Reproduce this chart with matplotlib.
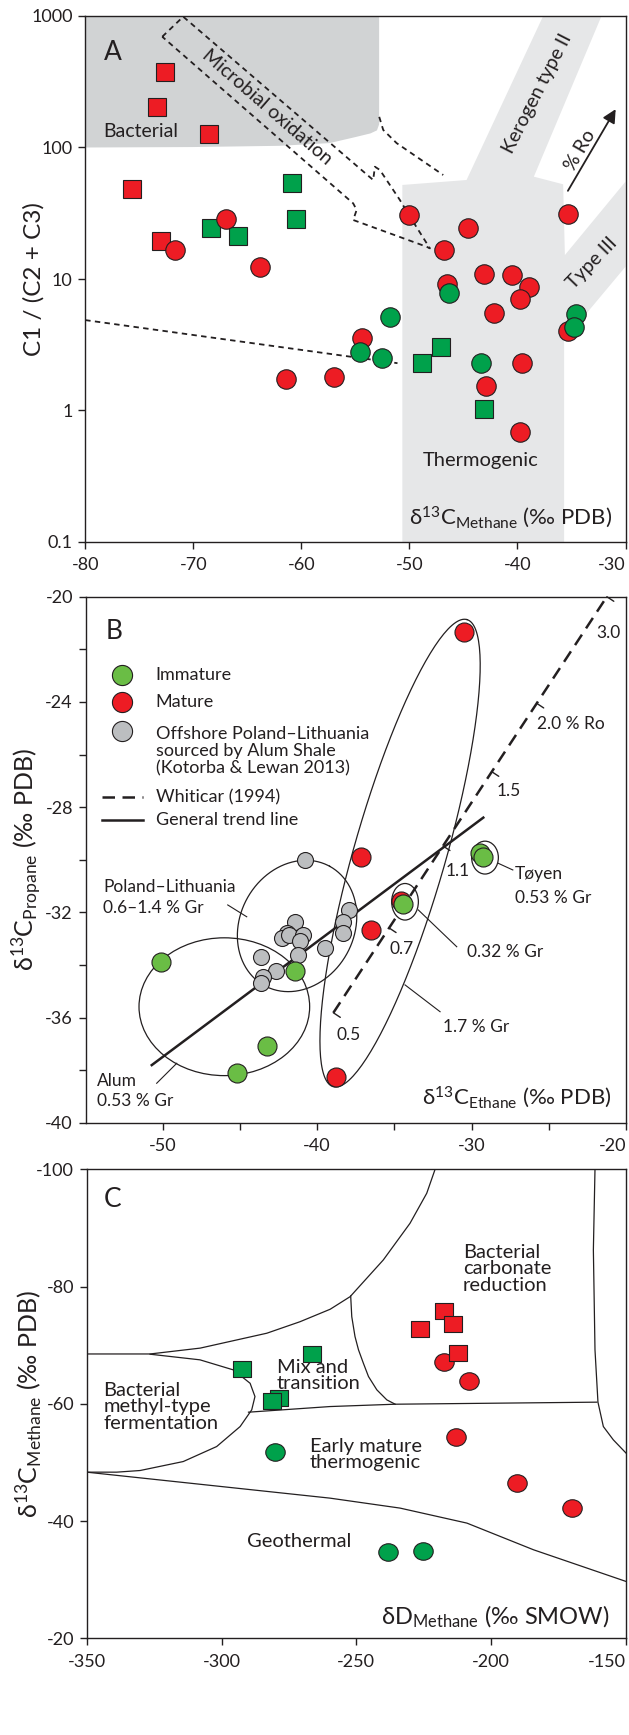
import numpy as np
import matplotlib
matplotlib.use('Agg')
import matplotlib.pyplot as plt
from matplotlib.patches import Polygon, Ellipse
from matplotlib.path import Path
from matplotlib.transforms import Affine2D
from matplotlib.ticker import FixedLocator, FixedFormatter, NullLocator

plt.rcParams['font.family'] = ['Lato', 'DejaVu Sans']
plt.rcParams['mathtext.fontset'] = 'custom'
plt.rcParams['mathtext.rm'] = 'Lato'
plt.rcParams['mathtext.it'] = 'Lato:italic'
plt.rcParams['mathtext.fallback'] = 'stixsans'
plt.rcParams['axes.unicode_minus'] = False

INK = '#231f20'
RED = '#ed1c24'
GREEN = '#00a14b'
LGREEN = '#6abd45'
GREY = '#bcbec0'

# ===================== PANEL A DATA =====================
a_red_sq_x = [-72.6, -73.35, -68.5, -75.7, -73.0]
a_red_sq_y = [375, 203, 127, 48, 19.4]
a_green_sq_x = [-60.9, -60.5, -68.4, -65.9, -48.8, -47.1, -43.1]
a_green_sq_y = [54, 28.8, 24.3, 21.3, 2.29, 3.05, 1.03]
a_red_ci_x = [-67.0, -71.7, -63.8, -50.0, -44.6, -46.8, -43.1, -40.5, -38.9, -46.5,
              -35.3, -39.8, -42.2, -35.3, -54.4, -61.4, -57.0, -39.6, -42.9, -39.8]
a_red_ci_y = [28.6, 16.5, 12.3, 30.5, 24.4, 16.7, 10.9, 10.7, 8.75, 9.1,
              31, 7.05, 5.55, 4.05, 3.56, 1.75, 1.8, 2.3, 1.53, 0.69]
a_green_ci_x = [-46.3, -51.8, -54.6, -52.5, -43.4, -34.6, -34.8]
a_green_ci_y = [7.87, 5.12, 2.79, 2.49, 2.31, 5.42, 4.3]

# gray fields (outline vertices)
bact_x = [-80, -52.8, -52.8, -53.0, -53.6, -55.0, -57.4, -62.0, -70.0, -80]
bact_y = [1000, 1000, 150, 135, 128, 120, 108, 103, 100.8, 100]
thermo_x = [-50.65, -50.65, -44.71, -37.62, -32.22, -38.48, -35.77, -35.61, -30, -30, -35.68, -35.68]
thermo_y = [0.1, 51.9, 56.6, 1000, 1000, 60, 52.5, 15.2, 55, 12.4, 3.43, 0.1]

# dashed outlines
micro_x = [-72.87, -70.93, -53.35, -53.19, -52.73, -50.88, -49.95, -48.1, -48.41, -55.2, -54.88, -55.2, -72.87]
micro_y = [696, 988, 56.6, 71.4, 67.5, 39.9, 29.8, 17.1, 17.6, 28.1, 33.5, 37.6, 696]
curve_x = [-52.79, -52.42, -51.18, -46.87]
curve_y = [171, 136, 108, 61.8]
lower_x = [-80, -51.1]
lower_y = [4.87, 2.29]

# ===================== PANEL B DATA =====================
b_grey_x = [-40.76, -41.41, -41.97, -42.29, -41.80, -40.89, -41.11, -41.26, -43.63,
            -42.66, -43.48, -43.63, -39.49, -37.91, -38.30, -38.34]
b_grey_y = [-30.01, -32.36, -32.80, -32.99, -32.86, -32.86, -33.08, -33.62, -33.69,
            -34.22, -34.45, -34.70, -33.37, -31.91, -32.36, -32.80]
b_red_x = [-30.49, -37.16, -36.53, -38.78, -34.59]
b_red_y = [-21.33, -29.89, -32.67, -38.27, -31.57]
b_green_x = [-50.11, -45.21, -43.26, -41.45, -34.42, -29.45, -29.28]
b_green_y = [-33.90, -38.10, -37.08, -34.22, -31.68, -29.76, -29.89]

whiticar_x = [-38.95, -21.24]
whiticar_y = [-35.82, -20.0]
ro_x = [-38.95, -35.34, -31.85, -28.69, -25.78, -21.24]
ro_labels = ['0.5', '0.7', '1.1', '1.5', '2.0 % Ro', '3.0']
trend_x = [-50.71, -29.24]
trend_y = [-37.81, -28.40]

# ===================== PANEL C DATA =====================
c_green_sq_x = [-292.3, -266.3, -278.6, -281.4]
c_green_sq_y = [-66.0, -68.5, -61.06, -60.55]
c_green_ci_x = [-280.0, -238.1, -225.1]
c_green_ci_y = [-51.86, -34.64, -34.93]
c_red_ci_x = [-217.4, -208.2, -213.1, -190.3, -170.1]
c_red_ci_y = [-67.15, -63.91, -54.42, -46.47, -42.21]
c_red_sq_x = [-217.4, -214.2, -226.4, -212.4]
c_red_sq_y = [-75.84, -73.63, -72.72, -68.63]

# field boundaries
up_x = [-350, -326.5, -307.9, -283.2, -270.9, -259.7, -252.3, -240.0, -230.1, -223.9, -220.8]
up_y = [-68.5, -68.5, -69.5, -72.04, -74.0, -76.13, -78.28, -84.54, -90.79, -95.91, -100]
lobe_x = [-326.5, -308.0, -295.6, -289.4, -287.6, -288.8, -293.1, -301.8, -314.2, -330.2, -338.9, -350]
lobe_y = [-68.46, -67.5, -65.78, -63.5, -61.24, -58.97, -56.12, -52.71, -50.15, -48.62, -48.34, -48.34]
mix_x = [-290.0, -259.8, -235.6, -160.8]
mix_y = [-58.57, -59.53, -59.93, -60.28]
carb_x = [-252.1, -251.7, -250.5, -249.2, -247.4, -245.5, -242.4, -238.7, -235.6]
carb_y = [-78.4, -74.87, -71.47, -69.2, -66.93, -64.65, -62.38, -60.67, -59.93]
right_x = [-161.5, -162.1, -161.5, -160.4, -158.4, -154.7, -150]
right_y = [-100, -86.24, -69.2, -60.28, -56.12, -53.85, -51.6]
low_x = [-350, -259.8, -233.8, -209.0, -184.3, -150]
low_y = [-48.34, -43.91, -42.21, -39.65, -35.10, -29.70]


def style_axes(ax):
    for s in ax.spines.values():
        s.set_linewidth(1.0)
        s.set_color(INK)
    ax.tick_params(which='both', direction='out', length=5, width=1.0, color=INK,
                   labelsize=13, labelcolor=INK)
    ax.tick_params(axis='x', which='both', pad=6)
    ax.tick_params(axis='y', which='both', pad=4)


def last_xlabel_right(ax):
    # the right-most tick label sits flush with the right spine
    fig.canvas.draw()
    ax.get_xticklabels()[-1].set_horizontalalignment('right')


def ellipse_pts(cx, cy, u, v):
    t = np.linspace(0, 2 * np.pi, 200)
    return (cx + u[0] * np.cos(t) + v[0] * np.sin(t),
            cy + u[1] * np.cos(t) + v[1] * np.sin(t))


fig = plt.figure(figsize=(6.29, 17.35), dpi=100)

# ===================== PANEL A =====================
axA = fig.add_axes([85.2 / 629, 1 - 542 / 1735, 540.3 / 629, 526 / 1735])
axA.set_yscale('log')
axA.set_xlim(-80, -30)
axA.set_ylim(0.1, 1000)
style_axes(axA)
axA.xaxis.set_major_locator(FixedLocator([-80, -70, -60, -50, -40, -30]))
axA.yaxis.set_major_locator(FixedLocator([0.1, 1, 10, 100, 1000]))
axA.yaxis.set_major_formatter(FixedFormatter(['0.1', '1', '10', '100', '1000']))
axA.yaxis.set_minor_locator(NullLocator())

axA.add_patch(Polygon(list(zip(bact_x, bact_y)), closed=True, fc='#d1d3d4', ec='none', zorder=0))
axA.add_patch(Polygon(list(zip(thermo_x, thermo_y)), closed=True, fc='#e6e7e8', ec='none', zorder=0))

dash = (0, (3, 2.4))
axA.plot(micro_x, micro_y, color=INK, lw=1.3, ls=dash, zorder=1)
axA.plot(curve_x, curve_y, color=INK, lw=1.3, ls=dash, zorder=1)
axA.plot(lower_x, lower_y, color=INK, lw=1.3, ls=dash, zorder=1)

axA.annotate('', xy=(-30.78, 204), xytext=(-35.46, 44.9),
             arrowprops=dict(arrowstyle='-|>', lw=1.3, color=INK, mutation_scale=20))

mk = dict(ls='none', mec=INK, mew=0.8)
axA.plot(a_red_sq_x, a_red_sq_y, marker='s', ms=12.3, mfc=RED, zorder=3, **mk)
axA.plot(a_green_sq_x, a_green_sq_y, marker='s', ms=12.3, mfc=GREEN, zorder=3, **mk)
axA.plot(a_red_ci_x, a_red_ci_y, marker='o', ms=14, mfc=RED, zorder=3, **mk)
axA.plot(a_green_ci_x, a_green_ci_y, marker='o', ms=14, mfc=GREEN, zorder=3, **mk)

axA.text(0.034, 0.93, 'A', transform=axA.transAxes, fontsize=19, color=INK, va='center')
axA.text(-78.3, 132, 'Bacterial', fontsize=14, color=INK, va='center')
axA.text(-63.2, 204, 'Microbial oxidation', fontsize=14, color=INK, rotation=-41,
         ha='center', va='center', rotation_mode='anchor')
axA.text(-38.2, 258, 'Kerogen type II', fontsize=14, color=INK, rotation=63,
         ha='center', va='center', rotation_mode='anchor')
axA.text(-34.2, 95.7, '% Ro', fontsize=14, color=INK, rotation=60,
         ha='center', va='center', rotation_mode='anchor')
axA.text(-33.1, 13.2, 'Type III', fontsize=14, color=INK, rotation=46,
         ha='center', va='center', rotation_mode='anchor')
axA.text(-43.4, 0.42, 'Thermogenic', fontsize=14.5, color=INK, ha='center', va='center')
axA.text(0.975, 0.048, r'$\mathrm{δ^{13}C_{Methane}}$ (‰ PDB)', transform=axA.transAxes,
         fontsize=16, color=INK, ha='right', va='center')
axA.set_ylabel('C1 / (C2 + C3)', fontsize=17.5, color=INK)
axA.yaxis.set_label_coords(-0.076, 0.5)
last_xlabel_right(axA)

# ===================== PANEL B =====================
axB = fig.add_axes([85.5 / 629, 1 - 1122.7 / 1735, 540.5 / 629, 526 / 1735])
axB.set_xlim(-55, -20)
axB.set_ylim(-40, -20)
style_axes(axB)
axB.xaxis.set_major_locator(FixedLocator([-50, -40, -30, -20]))
axB.xaxis.set_minor_locator(FixedLocator([-45, -35, -25]))
axB.yaxis.set_major_locator(FixedLocator([-40, -36, -32, -28, -24, -20]))
axB.yaxis.set_minor_locator(FixedLocator([-38, -34, -30, -26, -22]))

lw_e = 0.9
axB.add_patch(Ellipse((-46.01, -35.59), 11.05, 5.24, fc='none', ec=INK, lw=lw_e, zorder=1))
ex, ey = ellipse_pts(-41.30, -32.52, (2.11, 2.27), (3.24, -1.04))
axB.plot(ex, ey, color=INK, lw=lw_e, zorder=1)
ex, ey = ellipse_pts(-34.63, -29.75, (4.33, 8.88), (2.86, -0.48))
axB.plot(ex, ey, color=INK, lw=lw_e, zorder=1)
axB.add_patch(Ellipse((-29.13, -29.92), 1.73, 1.25, fc='white', ec=INK, lw=lw_e, zorder=2))
axB.add_patch(Ellipse((-34.31, -31.60), 1.73, 1.39, fc='white', ec=INK, lw=lw_e, zorder=2))

axB.plot(whiticar_x, whiticar_y, color=INK, lw=1.8, ls=(0, (5, 3)), zorder=2)
axB.plot(trend_x, trend_y, color=INK, lw=1.8, zorder=2)

slope = (whiticar_y[1] - whiticar_y[0]) / (whiticar_x[1] - whiticar_x[0])
lab_off = [(2.5, -16), (0, -15), (2, -18), (3.5, -14), (0, -15), (-7.5, -26)]
for xv, lab, off in zip(ro_x, ro_labels, lab_off):
    yv = whiticar_y[0] + slope * (xv - whiticar_x[0])
    axB.annotate('', xy=(xv, yv), xytext=(5, -3.3), textcoords='offset points',
                 arrowprops=dict(arrowstyle='-', lw=1.0, color=INK, shrinkA=0, shrinkB=0))
    axB.annotate(lab, xy=(xv, yv), xytext=off, textcoords='offset points',
                 fontsize=12.5, color=INK, ha='left', va='center')

# leader lines
leaders = [((-45.79, -44.56), (-31.72, -32.17)), ((-50.39, -49.09), (-38.50, -37.74)),
           ((-28.26, -27.33), (-30.14, -30.39)), ((-33.45, -30.96), (-31.91, -33.31)),
           ((-34.31, -32.04), (-34.76, -35.78))]
for lx, ly in leaders:
    axB.plot(lx, ly, color=INK, lw=0.8, zorder=1)

axB.plot(b_grey_x, b_grey_y, marker='o', ms=11.5, mfc=GREY, zorder=3, **mk)
axB.plot(b_red_x, b_red_y, marker='o', ms=13.7, mfc=RED, zorder=3, **mk)
axB.plot(b_green_x, b_green_y, marker='o', ms=13.7, mfc=LGREEN, zorder=3, **mk)

tk = dict(fontsize=12.5, color=INK, ha='left', va='center')
axB.text(-53.85, -31.44, 'Poland–Lithuania\n0.6–1.4 % Gr', linespacing=1.45, **tk)
axB.text(-54.27, -38.78, 'Alum\n0.53 % Gr', linespacing=1.3, **tk)
axB.text(-27.18, -30.99, 'Tøyen\n0.53 % Gr', linespacing=1.65, **tk)
axB.text(-30.31, -33.50, '0.32 % Gr', **tk)
axB.text(-31.83, -36.35, '1.7 % Gr', **tk)

# legend
tr = axB.transAxes
axB.plot([0.068], [0.851], transform=tr, marker='o', ms=14.5, mfc=LGREEN, **mk)
axB.plot([0.068], [0.799], transform=tr, marker='o', ms=14.5, mfc=RED, **mk)
axB.plot([0.068], [0.744], transform=tr, marker='o', ms=14.5, mfc=GREY, **mk)
axB.plot([0.030, 0.107], [0.619, 0.619], transform=tr, color=INK, lw=1.8, ls=(0, (5, 3)))
axB.plot([0.030, 0.107], [0.575, 0.575], transform=tr, color=INK, lw=1.8)
lk = dict(transform=tr, fontsize=13, color=INK, ha='left', va='center')
axB.text(0.130, 0.851, 'Immature', **lk)
axB.text(0.130, 0.799, 'Mature', **lk)
axB.text(0.130, 0.706, 'Offshore Poland–Lithuania\nsourced by Alum Shale\n(Kotorba & Lewan 2013)',
         linespacing=1.1, **lk)
axB.text(0.130, 0.619, 'Whiticar (1994)', **lk)
axB.text(0.130, 0.575, 'General trend line', **lk)

axB.text(0.038, 0.933, 'B', transform=axB.transAxes, fontsize=19, color=INK, va='center')
axB.text(0.9735, 0.049, r'$\mathrm{δ^{13}C_{Ethane}}$ (‰ PDB)', transform=axB.transAxes,
         fontsize=16, color=INK, ha='right', va='center')
axB.set_ylabel(r'$\mathrm{δ^{13}C_{Propane}}$ (‰ PDB)', fontsize=18, color=INK)
axB.yaxis.set_label_coords(-0.078, 0.5)
last_xlabel_right(axB)

# ===================== PANEL C =====================
axC = fig.add_axes([86.7 / 629, 1 - 1638.3 / 1735, 539.3 / 629, 469 / 1735])
axC.set_xlim(-350, -150)
axC.set_ylim(-20, -100)
style_axes(axC)
axC.xaxis.set_major_locator(FixedLocator([-350, -300, -250, -200, -150]))
axC.yaxis.set_major_locator(FixedLocator([-100, -80, -60, -40, -20]))

for bx, by in [(up_x, up_y), (lobe_x, lobe_y), (mix_x, mix_y), (carb_x, carb_y),
               (right_x, right_y), (low_x, low_y)]:
    axC.plot(bx, by, color=INK, lw=0.9, zorder=1)

ell = Path.unit_circle().transformed(Affine2D().scale(1, 0.9))
box = Path.unit_rectangle().transformed(Affine2D().translate(-0.5, -0.5).scale(1, 0.9))
axC.plot(c_green_ci_x, c_green_ci_y, marker=ell, ms=14, mfc=GREEN, zorder=3, **mk)
axC.plot(c_green_sq_x, c_green_sq_y, marker=box, ms=12.5, mfc=GREEN, zorder=3, **mk)
axC.plot(c_red_ci_x, c_red_ci_y, marker=ell, ms=14, mfc=RED, zorder=3, **mk)
axC.plot(c_red_sq_x, c_red_sq_y, marker=box, ms=12.5, mfc=RED, zorder=3, **mk)

ck = dict(fontsize=14.5, color=INK, ha='left', va='center', linespacing=0.95)
axC.text(-343.8, -59.48, 'Bacterial\nmethyl-type\nfermentation', **ck)
axC.text(-279.5, -64.80, 'Mix and\ntransition', **ck)
axC.text(-267.2, -51.30, 'Early mature\nthermogenic', **ck)
axC.text(-290.7, -36.52, 'Geothermal', **ck)
axC.text(-210.5, -83.0, 'Bacterial\ncarbonate\nreduction', **ck)

axC.text(0.031, 0.935, 'C', transform=axC.transAxes, fontsize=19, color=INK, va='center')
axC.text(0.970, 0.046, r'$\mathrm{δD_{Methane}}$ (‰ SMOW)', transform=axC.transAxes,
         fontsize=17, color=INK, ha='right', va='center')
axC.set_ylabel(r'$\mathrm{δ^{13}C_{Methane}}$ (‰ PDB)', fontsize=18, color=INK)
axC.yaxis.set_label_coords(-0.080, 0.5)
last_xlabel_right(axC)

fig.savefig('out.png', dpi=100)
plt.close(fig)
